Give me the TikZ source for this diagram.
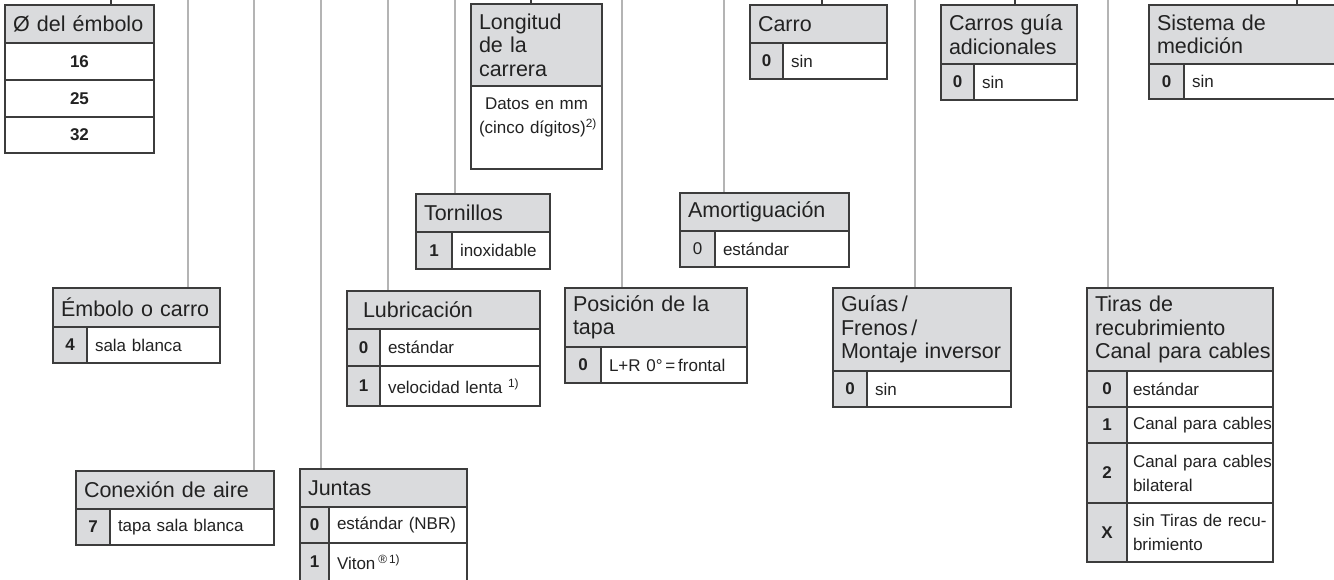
\documentclass[tikz,border=0pt]{standalone}
\usepackage{fontspec}
\setmainfont{Liberation Sans}[WordSpace=0.8]
\usetikzlibrary{positioning}

\definecolor{cellgray}{HTML}{DADBDD}
\definecolor{boxline}{HTML}{3C3C3C}
\definecolor{wiregray}{HTML}{B4B4B4}
\definecolor{inkgray}{HTML}{222222}

\newcommand{\hdrfont}{\fontsize{21.5}{23.5}\selectfont}
\newcommand{\valfont}{\fontsize{17}{24}\selectfont}
\newcommand{\keyfont}{\fontsize{17}{24}\selectfont\bfseries}

% no hyphenation inside the small table cells
\hyphenpenalty=10000
\exhyphenpenalty=10000

\begin{document}
\begin{tikzpicture}[x=1pt, y=-1pt, text=inkgray,
    cell/.style={draw=boxline, line width=1.3pt, rectangle, inner sep=0pt, outer sep=0pt},
    sz/.style 2 args={minimum width=#1, minimum height=#2, text width=#1-16},
    hdr/.style 2 args={cell, fill=cellgray, font=\hdrfont, align=left, inner xsep=8pt, sz={#1}{#2}, anchor=north west},
    keycell/.style 2 args={cell, fill=cellgray, font=\keyfont, minimum width=#1, minimum height=#2},
    valcell/.style 2 args={cell, fill=white, font=\valfont, align=left, inner xsep=8pt, sz={#1}{#2}},
    narrowval/.style={inner xsep=6pt, text width=134},
    numcell/.style 2 args={cell, fill=white, font=\keyfont, minimum width=#1, minimum height=#2},
    wire/.style={draw=wiregray, line width=2pt, shorten >=0.6pt},
    stub/.style={draw=boxline, line width=1.3pt}]

    \useasboundingbox (0,0) rectangle (1334,579);

    % Top row: piston diameter
    \node[hdr={149}{38}] (dia) at (5,5) {Ø del émbolo};
    \node[numcell={149}{37}, below right=0pt of dia.south west] (dia16) {16};
    \node[numcell={149}{37}, below=0pt of dia16] (dia25) {25};
    \node[numcell={149}{36}, below=0pt of dia25] (dia32) {32};

    % Top row: stroke length
    \node[hdr={131}{82}] (len) at (471,4) {Longitud\\de la\\carrera};
    \node[valcell={131}{83}, align=center, below right=0pt of len.south west] (lenv)
        {Datos~en~mm\\(cinco~dígitos)\textsuperscript{2)}\\\mbox{}};

    % Top row: carriage
    \node[hdr={137}{38}] (car) at (750,5) {Carro};
    \node[keycell={33}{36}, below right=0pt of car.south west] (cark0) {0};
    \node[valcell={104}{36}, right=0pt of cark0] (carv0) {sin};

    % Top row: additional guide carriages
    \node[hdr={136}{59}] (add) at (941,5) {Carros~guía\\adicionales};
    \node[keycell={33}{36}, below right=0pt of add.south west] (addk0) {0};
    \node[valcell={103}{36}, right=0pt of addk0] (addv0) {sin};

    % Top row: measuring system (runs past the right edge)
    \node[hdr={200}{59}] (meas) at (1149,5) {Sistema~de\\medición};
    \node[keycell={35}{35}, below right=0pt of meas.south west] (meask0) {0};
    \node[valcell={165}{35}, right=0pt of meask0] (measv0) {sin};

    % Second row: screws and cushioning
    \node[hdr={134}{38}] (scr) at (416,194) {Tornillos};
    \node[keycell={36}{37}, below right=0pt of scr.south west] (scrk1) {1};
    \node[valcell={98}{37}, right=0pt of scrk1] (scrv1) {inoxidable};

    \node[hdr={169}{38}] (cush) at (680,193) {Amortiguación};
    \node[keycell={35}{36}, font=\valfont, below right=0pt of cush.south west] (cushk0) {0};
    \node[valcell={134}{36}, right=0pt of cushk0] (cushv0) {estándar};

    % Third row: piston/carriage, lubrication, cap position, guides, strips
    \node[hdr={167}{39}] (emb) at (53,288) {Émbolo~o~carro};
    \node[keycell={34}{36}, below right=0pt of emb.south west] (embk4) {4};
    \node[valcell={133}{36}, right=0pt of embk4] (embv4) {sala~blanca};

    \node[hdr={193}{38}] (lub) at (347,291) {\hspace*{8pt}Lubricación};
    \node[keycell={33}{37}, below right=0pt of lub.south west] (lubk0) {0};
    \node[valcell={160}{37}, right=0pt of lubk0] (lubv0) {estándar};
    \node[keycell={33}{40}, below=0pt of lubk0] (lubk1) {1};
    \node[valcell={160}{40}, right=0pt of lubk1] (lubv1) {velocidad~lenta~\textsuperscript{1)}};

    \node[hdr={182}{59}] (pos) at (565,288) {Posición~de~la\\tapa};
    \node[keycell={36}{36}, below right=0pt of pos.south west] (posk0) {0};
    \node[valcell={146}{36}, right=0pt of posk0] (posv0) {L+R~0°\,=\,frontal};

    \node[hdr={178}{83}] (guide) at (833,288) {Guías\,/\\Frenos\,/\\Montaje~inversor};
    \node[keycell={34}{36}, below right=0pt of guide.south west] (guidek0) {0};
    \node[valcell={144}{36}, right=0pt of guidek0] (guidev0) {sin};

    \node[hdr={186}{83}] (strip) at (1087,288) {Tiras~de\\recubrimiento\\Canal~para~cables};
    \node[keycell={40}{36}, below right=0pt of strip.south west] (stripk0) {0};
    \node[valcell={146}{36}, narrowval, right=0pt of stripk0] (stripv0) {estándar};
    \node[keycell={40}{36}, below=0pt of stripk0] (stripk1) {1};
    \node[valcell={146}{36}, narrowval, right=0pt of stripk1] (stripv1) {Canal~para~cables};
    \node[keycell={40}{60}, below=0pt of stripk1] (stripk2) {2};
    \node[valcell={146}{60}, narrowval, right=0pt of stripk2] (stripv2) {Canal~para~cables\\bilateral};
    \node[keycell={40}{59}, below=0pt of stripk2] (stripkx) {X};
    \node[valcell={146}{59}, narrowval, right=0pt of stripkx] (stripvx) {sin~Tiras~de~recu-\\brimiento};

    % Bottom row: air connection and seals
    \node[hdr={198}{38}] (conn) at (76,471) {Conexión~de~aire};
    \node[keycell={34}{36}, below right=0pt of conn.south west] (connk7) {7};
    \node[valcell={164}{36}, right=0pt of connk7] (connv7) {tapa~sala~blanca};

    \node[hdr={167}{38}] (seal) at (300,469) {Juntas};
    \node[keycell={29}{36}, below right=0pt of seal.south west] (sealk0) {0};
    \node[valcell={138}{36}, right=0pt of sealk0] (sealv0) {estándar~(NBR)};
    \node[keycell={29}{38}, below=0pt of sealk0] (sealk1) {1};
    \node[valcell={138}{38}, right=0pt of sealk1] (sealv1) {Viton\,\textsuperscript{®\,1)}};

    % Short stubs into the boxes of the top row
    \coordinate (sDia) at (111,0);
    \coordinate (sLen) at (531,0);
    \coordinate (sCar) at (822,0);
    \coordinate (sAdd) at (1015,0);
    \coordinate (sMeas) at (1297,0);
    \draw[stub] (sDia) -- (sDia |- dia.north);
    \draw[stub] (sLen) -- (sLen |- len.north);
    \draw[stub] (sCar) -- (sCar |- car.north);
    \draw[stub] (sAdd) -- (sAdd |- add.north);
    \draw[stub] (sMeas) -- (sMeas |- meas.north);

    % Long gray leads down to the lower boxes
    \coordinate (wEmb) at (188,0);
    \coordinate (wConn) at (254,0);
    \coordinate (wSeal) at (321,0);
    \coordinate (wLub) at (388,0);
    \coordinate (wScr) at (455,0);
    \coordinate (wPos) at (622,0);
    \coordinate (wCush) at (724,0);
    \coordinate (wGuide) at (915,0);
    \coordinate (wStrip) at (1108,0);
    \draw[wire] (wEmb) -- (wEmb |- emb.north);
    \draw[wire] (wConn) -- (wConn |- conn.north);
    \draw[wire] (wSeal) -- (wSeal |- seal.north);
    \draw[wire] (wLub) -- (wLub |- lub.north);
    \draw[wire] (wScr) -- (wScr |- scr.north);
    \draw[wire] (wPos) -- (wPos |- pos.north);
    \draw[wire] (wCush) -- (wCush |- cush.north);
    \draw[wire] (wGuide) -- (wGuide |- guide.north);
    \draw[wire] (wStrip) -- (wStrip |- strip.north);
\end{tikzpicture}
\end{document}
